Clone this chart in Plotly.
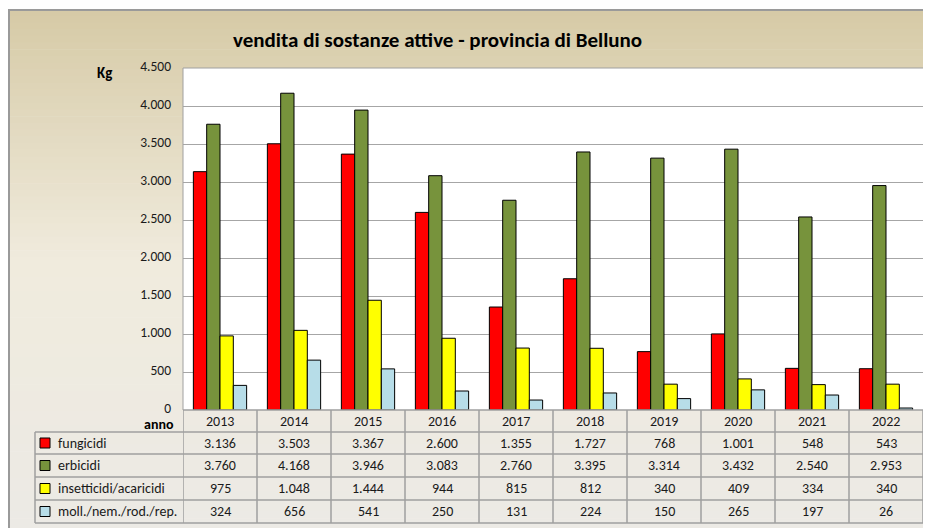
import plotly.graph_objects as go

# ---------------- data ----------------
years = ["2013", "2014", "2015", "2016", "2017", "2018", "2019", "2020", "2021", "2022"]
fungicidi = [3136, 3503, 3367, 2600, 1355, 1727, 768, 1001, 548, 543]
erbicidi = [3760, 4168, 3946, 3083, 2760, 3395, 3314, 3432, 2540, 2953]
insetticidi = [975, 1048, 1444, 944, 815, 812, 340, 409, 334, 340]
molluschicidi = [324, 656, 541, 250, 131, 224, 150, 265, 197, 26]
series_names = ["fungicidi", "erbicidi", "insetticidi/acaricidi", "moll./nem./rod./rep."]
series_values = [fungicidi, erbicidi, insetticidi, molluschicidi]
y_ticks = [0, 500, 1000, 1500, 2000, 2500, 3000, 3500, 4000, 4500]
title_text = "vendita di sostanze attive - provincia di Belluno"

# ---------------- style ----------------
colors = ["#ff0000", "#77933c", "#ffff00", "#b7dde8"]
FONT = "Carlito, Lato, 'Open Sans', sans-serif"
W, H = 931, 528
OFF = 8  # page body margin: screen px -> figure px
L, R, T, B = 183 - OFF, 923 - OFF, 68 - OFF, 410 - OFF


def px(x):
    # x given in screen pixels
    return (x - OFF - L) / (R - L)


def py(y):
    # y given in screen pixels
    return (B - (y - OFF)) / (B - T)


def fmt(v):
    return f"{v:,}".replace(",", ".")


fig = go.Figure()
for name, vals, col in zip(series_names, series_values, colors):
    fig.add_trace(go.Bar(
        x=years, y=vals, name=name,
        marker=dict(color=col, line=dict(color="#000000", width=1)),
        hoverinfo="x+y+name",
    ))

shapes = []


def lerp(c1, c2, t):
    return tuple(int(round(a + (b - a) * t)) for a, b in zip(c1, c2))


stops = [(10, (214, 202, 166)), (260, (240, 235, 221)), (528, (236, 234, 229))]
n = 80
y0 = 9
step = (545 - y0) / n
for i in range(n):
    ya = y0 + i * step
    yb = ya + step + 0.6
    yc = ya + step / 2
    if yc <= stops[1][0]:
        t = (yc - stops[0][0]) / (stops[1][0] - stops[0][0])
        c = lerp(stops[0][1], stops[1][1], max(0, min(1, t)))
    else:
        t = (yc - stops[1][0]) / (stops[2][0] - stops[1][0])
        c = lerp(stops[1][1], stops[2][1], max(0, min(1, t)))
    shapes.append(dict(type="rect", xref="paper", yref="paper",
                       x0=px(7), x1=px(945), y0=py(yb), y1=py(ya),
                       fillcolor="rgb(%d,%d,%d)" % c, line=dict(width=0), layer="below"))
# frame border
shapes.append(dict(type="line", xref="paper", yref="paper", x0=px(8), x1=px(945), y0=py(10), y1=py(10),
                   line=dict(color="#9a9a9a", width=2), layer="below"))
shapes.append(dict(type="line", xref="paper", yref="paper", x0=px(9), x1=px(9), y0=py(10), y1=py(545),
                   line=dict(color="#9a9a9a", width=2), layer="below"))
# plot area white
shapes.append(dict(type="rect", xref="paper", yref="paper", x0=0, x1=1, y0=0, y1=1,
                   fillcolor="white", line=dict(width=0), layer="below"))
# plot area border (left, top)
shapes.append(dict(type="line", xref="paper", yref="paper", x0=0, x1=1, y0=1, y1=1,
                   line=dict(color="#a0a0a0", width=1)))
shapes.append(dict(type="line", xref="paper", yref="paper", x0=0, x1=0, y0=0, y1=1,
                   line=dict(color="#a0a0a0", width=1)))

# ---------------- table ----------------
grid_col = "#9f9f9f"
row_lines = [410, 432, 454, 477, 500, 523]
row_centers = [421, 443, 465.5, 488.5, 511.5]
shapes.append(dict(type="line", xref="paper", yref="paper", x0=0, x1=1, y0=py(410), y1=py(410),
                   line=dict(color=grid_col, width=1.5)))
for yl in row_lines[1:]:
    shapes.append(dict(type="line", xref="paper", yref="paper", x0=px(35), x1=1, y0=py(yl), y1=py(yl),
                       line=dict(color=grid_col, width=1.5)))
for i in range(len(years) + 1):
    shapes.append(dict(type="line", xref="x", yref="paper", x0=i - 0.5, x1=i - 0.5,
                       y0=py(410), y1=py(523), line=dict(color=grid_col, width=1.5)))
shapes.append(dict(type="line", xref="paper", yref="paper", x0=px(35), x1=px(35),
                   y0=py(432), y1=py(523), line=dict(color=grid_col, width=1.5)))
for k, col in enumerate(colors):
    yc = row_centers[k + 1]
    shapes.append(dict(type="rect", xref="paper", yref="paper", x0=px(40), x1=px(50),
                       y0=py(yc + 5), y1=py(yc - 5), fillcolor=col,
                       line=dict(color="#000000", width=1)))

annotations = []
annotations.append(dict(text="<b>" + title_text + "</b>", xref="paper", yref="paper",
                        x=px(437), y=py(40), showarrow=False, xanchor="center", yanchor="middle",
                        font=dict(family=FONT, size=21, color="#000000")))
annotations.append(dict(text="<b>Kg</b>", xref="paper", yref="paper", x=px(104), y=py(73),
                        showarrow=False, xanchor="center", yanchor="middle",
                        font=dict(family=FONT, size=15, color="#000000")))
annotations.append(dict(text="<b>anno</b>", xref="paper", yref="paper", x=px(176), y=py(425),
                        showarrow=False, xanchor="right", yanchor="middle",
                        font=dict(family=FONT, size=14, color="#000000")))
for i, yr in enumerate(years):
    annotations.append(dict(text=yr, xref="x", yref="paper", x=i, y=py(row_centers[0]),
                            showarrow=False, xanchor="center", yanchor="middle",
                            font=dict(family=FONT, size=14, color="#1a1a1a")))
for k, (name, vals) in enumerate(zip(series_names, series_values)):
    yc = row_centers[k + 1]
    annotations.append(dict(text=name, xref="paper", yref="paper", x=px(56), y=py(yc),
                            showarrow=False, xanchor="left", yanchor="middle",
                            font=dict(family=FONT, size=14, color="#1a1a1a")))
    for i, v in enumerate(vals):
        annotations.append(dict(text=fmt(v), xref="x", yref="paper", x=i, y=py(yc),
                                showarrow=False, xanchor="center", yanchor="middle",
                                font=dict(family=FONT, size=14, color="#1a1a1a")))

fig.update_layout(
    width=W, height=H,
    margin=dict(l=L, r=W - R, t=T, b=H - B, pad=0),
    paper_bgcolor="white", plot_bgcolor="white",
    barmode="group", bargap=0.28, bargroupgap=0,
    showlegend=False,
    separators=",.",
    font=dict(family=FONT, size=13, color="#000000"),
    xaxis=dict(type="category", range=[-0.5, len(years) - 0.5], showticklabels=False,
               showgrid=False, zeroline=False, showline=False, ticks=""),
    yaxis=dict(range=[0, 4500], tickvals=y_ticks, tickformat=",d", showgrid=True,
               gridcolor="#a6a6a6", gridwidth=1, zeroline=False, showline=False,
               ticks="", ticklabelstandoff=11, ticklabelshift=-2,
               tickfont=dict(family=FONT, size=13.5, color="#1a1a1a")),
    shapes=shapes, annotations=annotations,
)

fig.write_html("out.html")
